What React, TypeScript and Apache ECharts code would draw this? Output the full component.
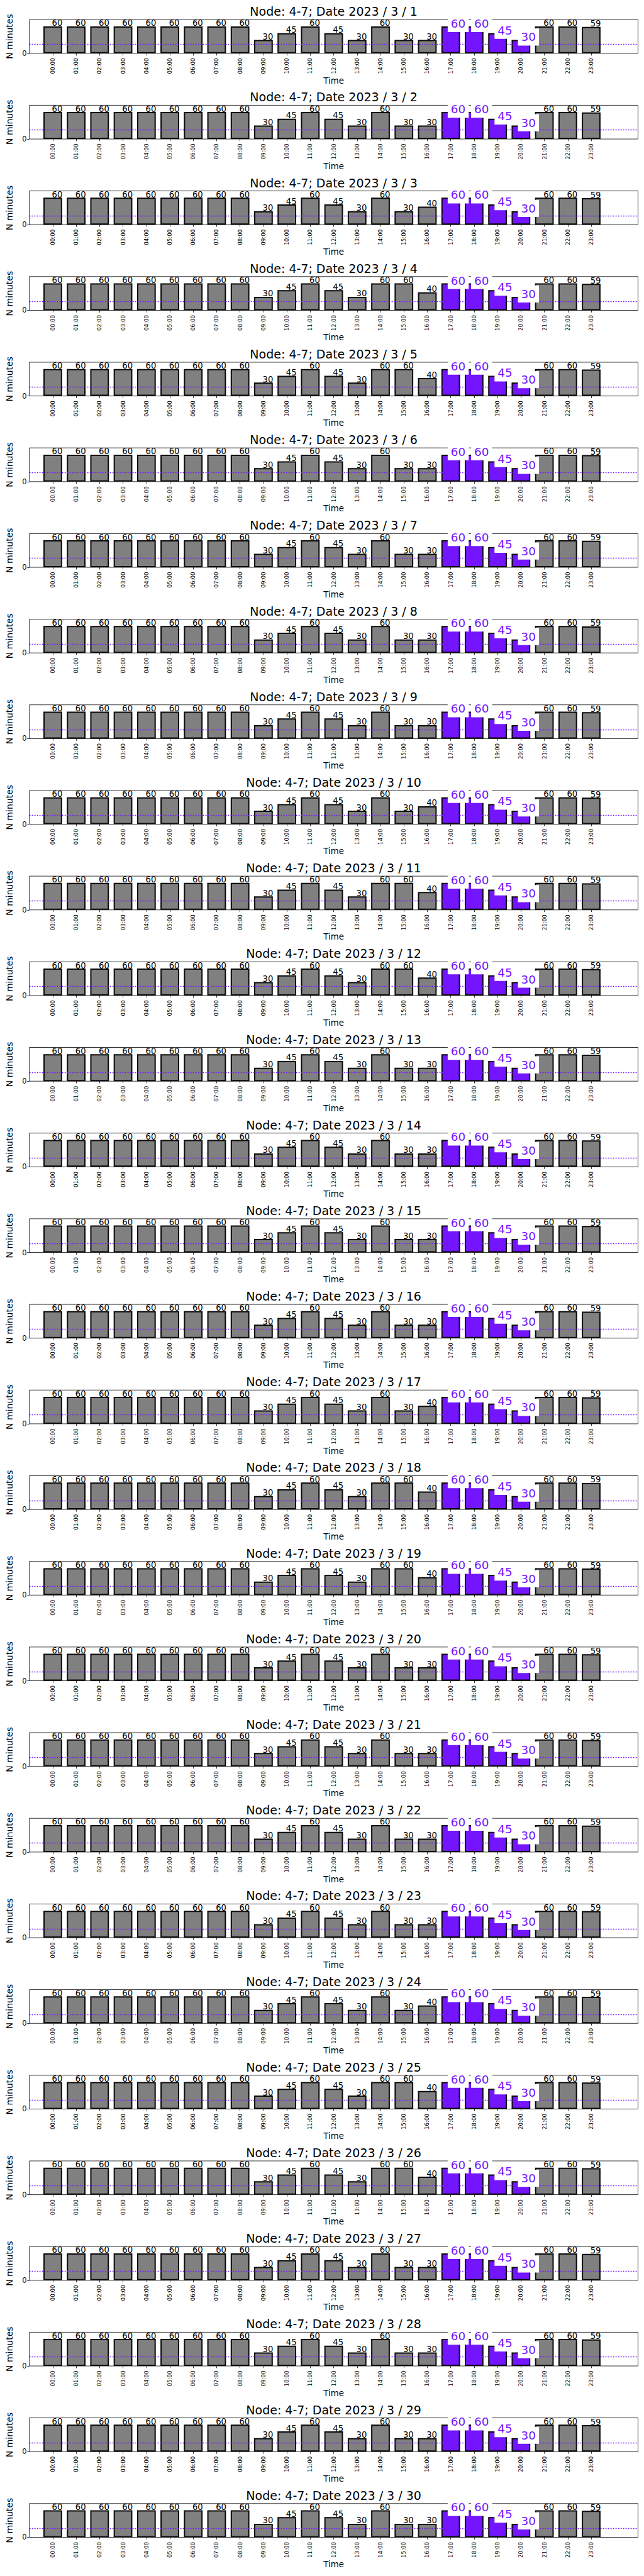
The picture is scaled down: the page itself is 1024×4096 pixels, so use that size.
import React, { useEffect, useRef } from "react";
import * as echarts from "echarts";

// ---------- data ----------
const NODE = "4-7";
const DATES = [
  "2023 / 3 / 1", "2023 / 3 / 2", "2023 / 3 / 3", "2023 / 3 / 4", "2023 / 3 / 5",
  "2023 / 3 / 6", "2023 / 3 / 7", "2023 / 3 / 8", "2023 / 3 / 9", "2023 / 3 / 10",
  "2023 / 3 / 11", "2023 / 3 / 12", "2023 / 3 / 13", "2023 / 3 / 14", "2023 / 3 / 15",
  "2023 / 3 / 16", "2023 / 3 / 17", "2023 / 3 / 18", "2023 / 3 / 19", "2023 / 3 / 20",
  "2023 / 3 / 21", "2023 / 3 / 22", "2023 / 3 / 23", "2023 / 3 / 24", "2023 / 3 / 25",
  "2023 / 3 / 26", "2023 / 3 / 27", "2023 / 3 / 28", "2023 / 3 / 29", "2023 / 3 / 30",
];
const HOURS = [
  "00:00", "01:00", "02:00", "03:00", "04:00", "05:00", "06:00", "07:00",
  "08:00", "09:00", "10:00", "11:00", "12:00", "13:00", "14:00", "15:00",
  "16:00", "17:00", "18:00", "19:00", "20:00", "21:00", "22:00", "23:00",
];
// category slots: one empty slot before 00:00, two after 23:00 (axis spans -1 .. 25)
const X_CATEGORIES = ["", ...HOURS, "", ""];
const HIGHLIGHT_HOURS = ["17:00", "18:00", "19:00", "20:00"];
const THRESHOLD = 20;
const Y_MAX = 75;
const Y_TICKS = [0, 50];

const D01 = [60, 60, 60, 60, 60, 60, 60, 60, 60, 30, 45, 60, 45, 30, 60, 30, 30, 60, 60, 45, 30, 60, 60, 59];
const D02 = [60, 60, 60, 60, 60, 60, 60, 60, 60, 30, 45, 60, 45, 30, 60, 30, 30, 60, 60, 45, 30, 60, 60, 59];
const D03 = [60, 60, 60, 60, 60, 60, 60, 60, 60, 30, 45, 60, 45, 30, 60, 30, 40, 60, 60, 45, 30, 60, 60, 59];
const D04 = [60, 60, 60, 60, 60, 60, 60, 60, 60, 30, 45, 60, 45, 30, 60, 60, 40, 60, 60, 45, 30, 60, 60, 59];
const D05 = [60, 60, 60, 60, 60, 60, 60, 60, 60, 30, 45, 60, 45, 30, 60, 60, 40, 60, 60, 45, 30, 60, 60, 59];
const D06 = [60, 60, 60, 60, 60, 60, 60, 60, 60, 30, 45, 60, 45, 30, 60, 30, 30, 60, 60, 45, 30, 60, 60, 59];
const D07 = [60, 60, 60, 60, 60, 60, 60, 60, 60, 30, 45, 60, 45, 30, 60, 30, 30, 60, 60, 45, 30, 60, 60, 59];
const D08 = [60, 60, 60, 60, 60, 60, 60, 60, 60, 30, 45, 60, 45, 30, 60, 30, 30, 60, 60, 45, 30, 60, 60, 59];
const D09 = [60, 60, 60, 60, 60, 60, 60, 60, 60, 30, 45, 60, 45, 30, 60, 30, 30, 60, 60, 45, 30, 60, 60, 59];
const D10 = [60, 60, 60, 60, 60, 60, 60, 60, 60, 30, 45, 60, 45, 30, 60, 30, 40, 60, 60, 45, 30, 60, 60, 59];
const D11 = [60, 60, 60, 60, 60, 60, 60, 60, 60, 30, 45, 60, 45, 30, 60, 60, 40, 60, 60, 45, 30, 60, 60, 59];
const D12 = [60, 60, 60, 60, 60, 60, 60, 60, 60, 30, 45, 60, 45, 30, 60, 60, 40, 60, 60, 45, 30, 60, 60, 59];
const D13 = [60, 60, 60, 60, 60, 60, 60, 60, 60, 30, 45, 60, 45, 30, 60, 30, 30, 60, 60, 45, 30, 60, 60, 59];
const D14 = [60, 60, 60, 60, 60, 60, 60, 60, 60, 30, 45, 60, 45, 30, 60, 30, 30, 60, 60, 45, 30, 60, 60, 59];
const D15 = [60, 60, 60, 60, 60, 60, 60, 60, 60, 30, 45, 60, 45, 30, 60, 30, 30, 60, 60, 45, 30, 60, 60, 59];
const D16 = [60, 60, 60, 60, 60, 60, 60, 60, 60, 30, 45, 60, 45, 30, 60, 30, 30, 60, 60, 45, 30, 60, 60, 59];
const D17 = [60, 60, 60, 60, 60, 60, 60, 60, 60, 30, 45, 60, 45, 30, 60, 30, 40, 60, 60, 45, 30, 60, 60, 59];
const D18 = [60, 60, 60, 60, 60, 60, 60, 60, 60, 30, 45, 60, 45, 30, 60, 60, 40, 60, 60, 45, 30, 60, 60, 59];
const D19 = [60, 60, 60, 60, 60, 60, 60, 60, 60, 30, 45, 60, 45, 30, 60, 60, 40, 60, 60, 45, 30, 60, 60, 59];
const D20 = [60, 60, 60, 60, 60, 60, 60, 60, 60, 30, 45, 60, 45, 30, 60, 30, 30, 60, 60, 45, 30, 60, 60, 59];
const D21 = [60, 60, 60, 60, 60, 60, 60, 60, 60, 30, 45, 60, 45, 30, 60, 30, 30, 60, 60, 45, 30, 60, 60, 59];
const D22 = [60, 60, 60, 60, 60, 60, 60, 60, 60, 30, 45, 60, 45, 30, 60, 30, 30, 60, 60, 45, 30, 60, 60, 59];
const D23 = [60, 60, 60, 60, 60, 60, 60, 60, 60, 30, 45, 60, 45, 30, 60, 30, 30, 60, 60, 45, 30, 60, 60, 59];
const D24 = [60, 60, 60, 60, 60, 60, 60, 60, 60, 30, 45, 60, 45, 30, 60, 30, 40, 60, 60, 45, 30, 60, 60, 59];
const D25 = [60, 60, 60, 60, 60, 60, 60, 60, 60, 30, 45, 60, 45, 30, 60, 60, 40, 60, 60, 45, 30, 60, 60, 59];
const D26 = [60, 60, 60, 60, 60, 60, 60, 60, 60, 30, 45, 60, 45, 30, 60, 60, 40, 60, 60, 45, 30, 60, 60, 59];
const D27 = [60, 60, 60, 60, 60, 60, 60, 60, 60, 30, 45, 60, 45, 30, 60, 30, 30, 60, 60, 45, 30, 60, 60, 59];
const D28 = [60, 60, 60, 60, 60, 60, 60, 60, 60, 30, 45, 60, 45, 30, 60, 30, 30, 60, 60, 45, 30, 60, 60, 59];
const D29 = [60, 60, 60, 60, 60, 60, 60, 60, 60, 30, 45, 60, 45, 30, 60, 30, 30, 60, 60, 45, 30, 60, 60, 59];
const D30 = [60, 60, 60, 60, 60, 60, 60, 60, 60, 30, 45, 60, 45, 30, 60, 30, 30, 60, 60, 45, 30, 60, 60, 59];
const DAY_VALUES = [
  D01, D02, D03, D04, D05, D06, D07, D08, D09, D10,
  D11, D12, D13, D14, D15, D16, D17, D18, D19, D20,
  D21, D22, D23, D24, D25, D26, D27, D28, D29, D30,
];

// ---------- styling / layout (reference pixels, scaled by S) ----------
const S = 1024 / 1500;
const FONT = "DejaVu Sans";
const PURPLE = "#7315ff";
const GRAY = "#808080";
const GRID_LEFT = 68.4;
const GRID_RIGHT = 1486;
const FIRST_TOP = 45.7;
const PERIOD = 199.5;
const GRID_H = 78.6;

function buildOption() {
  const grids: any[] = [];
  const xAxes: any[] = [];
  const yAxes: any[] = [];
  const series: any[] = [];
  const graphics: any[] = [];
  const centerX = ((GRID_LEFT + GRID_RIGHT) / 2) * S;
  const visibleSlot = (idx: number) => idx >= 1 && idx <= HOURS.length;

  DAY_VALUES.forEach((vals, i) => {
    const topRef = FIRST_TOP + PERIOD * i;
    grids.push({
      left: GRID_LEFT * S,
      top: topRef * S,
      width: (GRID_RIGHT - GRID_LEFT) * S,
      height: GRID_H * S,
      show: true,
      borderColor: "#000",
      borderWidth: 0.8,
      backgroundColor: "transparent",
    });
    xAxes.push({
      type: "category",
      gridIndex: i,
      data: X_CATEGORIES,
      boundaryGap: false,
      axisLine: { show: false },
      axisTick: {
        show: true,
        interval: (idx: number) => visibleSlot(idx),
        length: 3.4,
        lineStyle: { color: "#000", width: 0.8 },
      },
      axisLabel: {
        interval: (idx: number) => visibleSlot(idx),
        rotate: 90,
        fontSize: 8.7,
        fontFamily: FONT,
        color: "#000",
        margin: 7.5,
      },
      splitLine: { show: false },
    });
    yAxes.push({
      type: "value",
      gridIndex: i,
      min: 0,
      max: Y_MAX,
      axisLine: { show: false },
      axisTick: {
        show: true,
        customValues: Y_TICKS,
        length: 3.4,
        lineStyle: { color: "#000", width: 0.8 },
      },
      axisLabel: {
        customValues: Y_TICKS,
        showMaxLabel: false,
        formatter: (v: number) => (Y_TICKS.indexOf(v) >= 0 ? String(v) : ""),
        fontSize: 11.4,
        fontFamily: FONT,
        color: "#000",
        margin: 4.2,
      },
      splitLine: { show: false },
    });

    const barData = X_CATEGORIES.map((c, k) => {
      if (!visibleSlot(k)) return "-";
      const v = vals[k - 1];
      const hi = HIGHLIGHT_HOURS.indexOf(c) >= 0;
      return { value: v, itemStyle: { color: hi ? PURPLE : GRAY } };
    });
    const labelData = X_CATEGORIES.map((c, k) => {
      if (!visibleSlot(k)) return "-";
      const v = vals[k - 1];
      const hi = HIGHLIGHT_HOURS.indexOf(c) >= 0;
      return {
        value: v,
        label: hi
          ? {
              show: true,
              position: ["50%", 0],
              align: "left",
              verticalAlign: "middle",
              offset: [-4.8, -4.5],
              fontSize: 18.4,
              lineHeight: 18.4,
              fontFamily: FONT,
              color: PURPLE,
              backgroundColor: "#ffffff",
              padding: [4.4, 5],
            }
          : {
              show: true,
              position: ["50%", 0],
              align: "left",
              verticalAlign: "bottom",
              offset: [-1.3, 1.6],
              fontSize: 13.2,
              lineHeight: 13.2,
              fontFamily: FONT,
              color: "#000",
            },
      };
    });

    series.push({
      type: "bar",
      name: "minutes-" + (i + 1),
      xAxisIndex: i,
      yAxisIndex: i,
      barWidth: "80%",
      barGap: "-100%",
      z: 2,
      silent: true,
      itemStyle: { color: GRAY, borderColor: "#0a0a0a", borderWidth: 2 },
      data: barData,
      markLine: {
        silent: true,
        symbol: "none",
        z: 4,
        animation: false,
        label: { show: false },
        emphasis: { disabled: true },
        lineStyle: { color: PURPLE, type: [1.8, 2.2], width: 1.4 },
        data: [{ yAxis: THRESHOLD }],
      },
    });
    series.push({
      type: "bar",
      name: "labels-" + (i + 1),
      xAxisIndex: i,
      yAxisIndex: i,
      barWidth: "80%",
      barGap: "-100%",
      z: 6,
      silent: true,
      itemStyle: { color: "rgba(0,0,0,0)", borderWidth: 0 },
      data: labelData,
    });

    graphics.push({
      type: "text",
      x: centerX,
      y: (topRef - 19) * S,
      style: {
        text: "Node: " + NODE + "; Date " + DATES[i],
        fontSize: 19,
        fontFamily: FONT,
        fill: "#000",
        align: "center",
        verticalAlign: "middle",
      },
    });
    graphics.push({
      type: "text",
      x: 22.6 * S,
      y: (topRef + GRID_H / 2) * S,
      rotation: Math.PI / 2,
      style: {
        text: "N minutes",
        fontSize: 14,
        fontFamily: FONT,
        fill: "#000",
        align: "center",
        verticalAlign: "middle",
      },
    });
    graphics.push({
      type: "text",
      x: centerX,
      y: (topRef + GRID_H + 63.2) * S,
      style: {
        text: "Time",
        fontSize: 13.3,
        fontFamily: FONT,
        fill: "#000",
        align: "center",
        verticalAlign: "middle",
      },
    });
  });

  return {
    animation: false,
    backgroundColor: "#ffffff",
    textStyle: { fontFamily: FONT },
    grid: grids,
    xAxis: xAxes,
    yAxis: yAxes,
    series,
    graphic: graphics,
  };
}

export default function App() {
  const ref = useRef<HTMLDivElement>(null);
  useEffect(() => {
    if (!ref.current) return;
    const chart = echarts.init(ref.current, null, { renderer: "svg" });
    chart.setOption(buildOption() as any);
    return () => chart.dispose();
  }, []);
  return (
    <div
      ref={ref}
      style={{ position: "absolute", left: 0, top: 0, width: 1024, height: 4096, background: "#fff" }}
    />
  );
}
